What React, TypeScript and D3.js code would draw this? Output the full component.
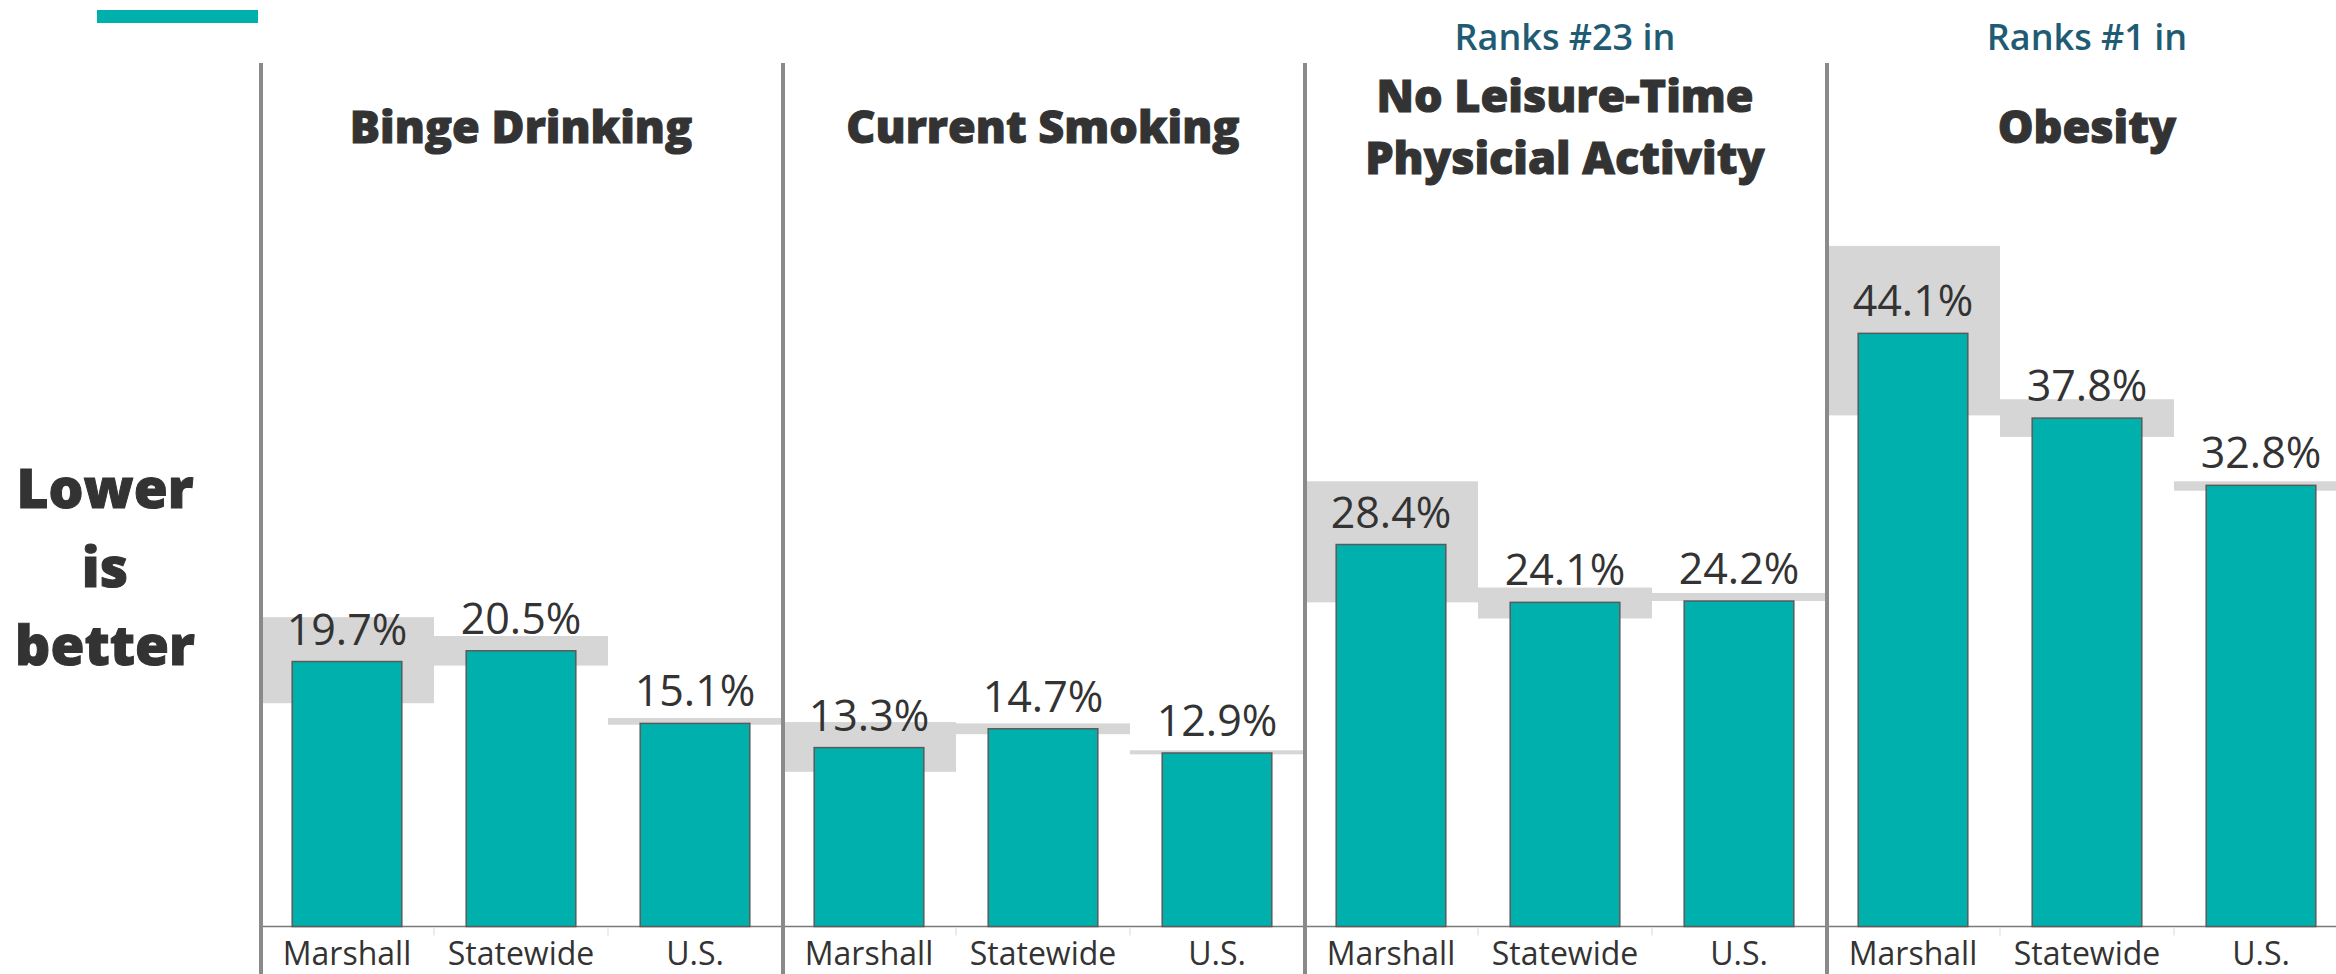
import React from "react";
import * as d3 from "d3";

const metrics = ["Binge Drinking", "Current Smoking", "No Leisure-Time Physical Activity", "Obesity"];
const titleLines = [["Binge Drinking"], ["Current Smoking"], ["No Leisure-Time", "Physicial Activity"], ["Obesity"]];
const rankNotes = ["", "", "Ranks #23 in", "Ranks #1 in"];
const groups = ["Marshall", "Statewide", "U.S."];

const marshallValues = [19.7, 13.3, 28.4, 44.1];
const statewideValues = [20.5, 14.7, 24.1, 37.8];
const usValues = [15.1, 12.9, 24.2, 32.8];

const marshallCI = [[16.6, 23.0], [11.5, 15.2], [24.1, 33.1], [38.0, 50.6]];
const statewideCI = [[19.4, 21.6], [14.3, 15.1], [22.9, 25.2], [36.4, 39.2]];
const usCI = [[15.0, 15.5], [12.8, 13.1], [24.2, 24.8], [32.4, 33.1]];

const sideNote = ["Lower", "is", "better"];

const W = 2336;
const H = 974;
const TEAL = "#00B0AD";
const BAND = "#D6D6D6";
const TEXT = "#333333";

export default function App() {
  const panelWidth = 522;
  const outer = d3.scaleBand<string>().domain(metrics).range([260, 260 + panelWidth * 4]).padding(0);
  const slot = d3.scaleBand<string>().domain(groups).range([0, panelWidth]).padding(0);
  const inner = d3.scaleBand<string>().domain(groups).range([0, panelWidth]).paddingInner(0.37).paddingOuter(0.185);
  const baseY = 926.5;
  const y = d3.scaleLinear().domain([0, 64]).range([baseY, baseY - 13.45 * 64]);

  const values = [marshallValues, statewideValues, usValues];
  const cis = [marshallCI, statewideCI, usCI];

  return (
    <div style={{ position: "absolute", left: 0, top: 0 }}>
      <svg width={W} height={H} style={{ display: "block", background: "#fff" }}>
        <rect x={97} y={10} width={161} height={13} fill={TEAL} />

        {sideNote.map((t, i) => (
          <text key={t} x={105} y={508 + i * 78.5} textAnchor="middle" fontFamily="Open Sans" fontWeight={800}
            fontSize={55} fill={TEXT} stroke={TEXT} strokeWidth={1}>
            {t}
          </text>
        ))}

        {/* gray confidence bands */}
        {metrics.map((m, mi) =>
          groups.map((g, gi) => {
            const [lo, hi] = cis[gi][mi];
            return (
              <rect key={`b-${m}-${g}`} x={(outer(m) as number) + (slot(g) as number)} width={slot.bandwidth()}
                y={y(hi)} height={y(lo) - y(hi)} fill={BAND} />
            );
          })
        )}

        {/* baseline */}
        <line x1={260} x2={W} y1={baseY} y2={baseY} stroke="#7a7a7a" strokeWidth={1.5} />
        {metrics.map((m) =>
          groups.slice(1).map((g) => (
            <line key={`t-${m}-${g}`} x1={(outer(m) as number) + (slot(g) as number)} x2={(outer(m) as number) + (slot(g) as number)}
              y1={baseY + 1} y2={baseY + 9} stroke="#e6e6e6" strokeWidth={1.5} />
          ))
        )}

        {/* bars */}
        {metrics.map((m, mi) =>
          groups.map((g, gi) => {
            const v = values[gi][mi];
            return (
              <rect key={`r-${m}-${g}`} x={(outer(m) as number) + (inner(g) as number)} width={inner.bandwidth()}
                y={y(v)} height={baseY - y(v)} fill={TEAL} stroke="#5a5a5a" strokeWidth={1.5} />
            );
          })
        )}

        {/* value labels */}
        {metrics.map((m, mi) =>
          groups.map((g, gi) => {
            const v = values[gi][mi];
            return (
              <text key={`v-${m}-${g}`} x={(outer(m) as number) + (slot(g) as number) + slot.bandwidth() / 2}
                y={y(v) - 17} textAnchor="middle" fontFamily="Open Sans" fontSize={43} fill={TEXT}>
                {v.toFixed(1)}%
              </text>
            );
          })
        )}

        {/* category labels */}
        {metrics.map((m) =>
          groups.map((g) => (
            <text key={`c-${m}-${g}`} x={(outer(m) as number) + (slot(g) as number) + slot.bandwidth() / 2}
              y={965} textAnchor="middle" fontFamily="Open Sans" fontSize={32} fill={TEXT}>
              {g}
            </text>
          ))
        )}

        {/* separators */}
        {metrics.map((m) => (
          <line key={`s-${m}`} x1={(outer(m) as number) + 1} x2={(outer(m) as number) + 1} y1={63} y2={H}
            stroke="#8a8a8a" strokeWidth={4} />
        ))}

        {/* titles */}
        {metrics.map((m, mi) => {
          const cx = (outer(m) as number) + panelWidth / 2;
          const lines = titleLines[mi];
          const y0 = lines.length === 1 ? 143 : 112;
          return (
            <g key={`h-${m}`}>
              {rankNotes[mi] && (
                <text x={cx} y={50} textAnchor="middle" fontFamily="Open Sans" fontWeight={600} fontSize={36} fill="#1F5C74">
                  {rankNotes[mi]}
                </text>
              )}
              {lines.map((l, li) => (
                <text key={l} x={cx} y={y0 + li * 62} textAnchor="middle" fontFamily="Open Sans" fontWeight={800}
                  fontSize={45} fill={TEXT} stroke={TEXT} strokeWidth={1}>
                  {l}
                </text>
              ))}
            </g>
          );
        })}
      </svg>
    </div>
  );
}
